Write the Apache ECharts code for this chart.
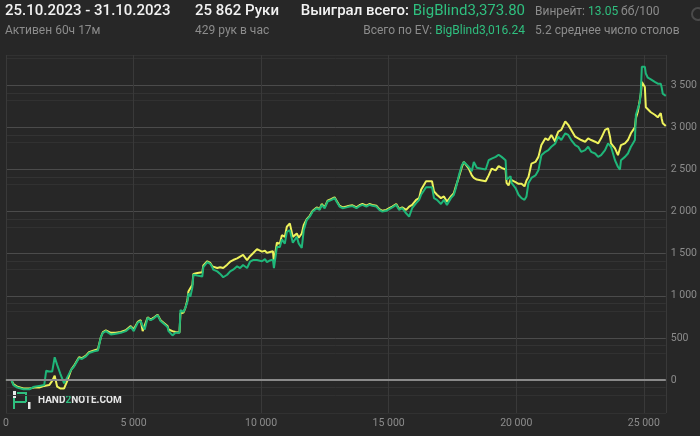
<!DOCTYPE html>
<html><head><meta charset="utf-8">
<script src="https://cdn.jsdelivr.net/npm/echarts@6/dist/echarts.min.js"></script>
<style>html,body{margin:0;padding:0;background:#272727}#c{width:700px;height:436px}</style>
</head><body><div id="c"></div><script>
// hands played (x)
const hands = [0,214,292,448,682,916,1111,1305,1500,1578,1695,1812,1910,2007,2124,2280,2416,2553,2669,2747,2864,2981,3137,3254,3332,3449,3605,3722,3800,3917,4112,4306,4501,4696,4774,4891,5008,5164,5281,5359,5437,5554,5670,5787,5943,6060,6177,6333,6372,6528,6645,6801,6840,6957,7035,7112,7151,7229,7307,7346,7502,7697,7736,7892,8008,8086,8125,8281,8398,8515,8671,8788,8905,9061,9177,9294,9450,9567,9684,9840,10035,10152,10230,10347,10425,10464,10503,10581,10620,10737,10815,10931,11009,11126,11243,11399,11477,11594,11672,11789,11906,12023,12179,12296,12374,12491,12607,12763,12880,12958,13075,13192,13348,13465,13582,13738,13854,13971,14127,14244,14361,14517,14634,14751,14907,15024,15141,15296,15413,15530,15686,15803,15920,16076,16193,16271,16466,16699,16777,16894,17050,17167,17284,17440,17557,17635,17752,17869,17947,18025,18142,18259,18337,18454,18530,18647,18803,18920,19037,19193,19310,19427,19583,19622,19700,19778,19817,19973,20090,20207,20324,20402,20480,20597,20753,20870,20986,21142,21259,21376,21532,21571,21649,21766,21922,22039,22156,22312,22429,22546,22702,22819,22936,23092,23209,23326,23481,23598,23676,23715,23871,23988,24066,24105,24261,24378,24495,24573,24651,24690,24768,24846,24885,24924,25041,25080,25158,25275,25431,25548,25665,25704,25743,25821,25862];
// actual winnings (green)
const won = [0,0,-60,-90,-110,-110,-80,-70,-60,110,100,100,270,180,80,-40,40,120,160,170,260,250,280,320,300,340,350,510,560,580,540,550,560,580,600,630,580,680,700,640,600,740,710,730,770,700,670,630,580,530,560,560,830,810,860,930,1030,990,1100,1250,1240,1230,1340,1400,1380,1340,1310,1290,1260,1220,1250,1290,1310,1350,1330,1365,1330,1405,1425,1425,1410,1435,1400,1420,1420,1430,1330,1330,1580,1580,1670,1620,1760,1780,1630,1700,1620,1570,1780,1900,1940,2000,2040,2020,2080,2040,2120,2140,2160,2120,2060,2040,2050,2060,2065,2040,2065,2080,2060,2080,2070,2060,2020,2000,2010,2030,2050,2080,2020,2040,1980,1940,2040,2100,2140,2200,2290,2290,2160,2140,2090,2140,2080,2160,2200,2280,2430,2550,2590,2570,2530,2480,2590,2520,2510,2510,2500,2610,2630,2650,2675,2650,2610,2380,2370,2420,2340,2280,2200,2160,2140,2180,2340,2400,2430,2490,2670,2710,2730,2770,2810,2830,2890,2850,2930,2910,2850,2790,2770,2710,2730,2770,2710,2690,2650,2670,2730,2810,2790,2770,2610,2530,2500,2610,2650,2690,2770,2810,2850,3150,3170,3300,3440,3720,3720,3640,3590,3570,3540,3520,3520,3470,3400,3400,3374];
// all-in EV winnings (yellow)
const ev = [0,0,-50,-80,-100,-100,-90,-90,-70,-60,-60,-10,50,-80,-100,-100,0,120,170,180,270,260,290,330,310,350,365,510,570,590,560,560,570,590,610,640,600,690,710,580,560,745,715,740,775,710,680,640,600,580,570,565,790,800,860,950,1050,1040,1130,1260,1270,1280,1360,1410,1390,1350,1340,1330,1340,1330,1370,1405,1425,1445,1465,1485,1425,1470,1505,1555,1525,1535,1510,1520,1525,1530,1400,1390,1630,1620,1720,1700,1820,1860,1700,1740,1690,1740,1840,1910,1950,2010,2050,2030,2090,2050,2130,2150,2170,2130,2070,2050,2060,2070,2075,2050,2075,2090,2070,2090,2080,2070,2030,2010,2020,2040,2060,2090,2030,2050,2020,2060,2080,2140,2160,2260,2360,2360,2240,2200,2160,2180,2120,2180,2220,2300,2410,2530,2590,2570,2510,2430,2400,2380,2360,2370,2360,2430,2510,2490,2540,2520,2500,2340,2310,2380,2400,2350,2330,2330,2300,2370,2410,2570,2590,2650,2790,2870,2850,2910,2830,2890,2950,2970,3070,3030,2970,2890,2870,2850,2830,2870,2850,2830,2810,2870,2970,2990,2890,2810,2750,2670,2650,2790,2810,2850,2930,2950,3000,3110,3190,3210,3400,3540,3480,3240,3220,3180,3150,3120,3170,3100,3050,3050,3016];
const xMax = 25862;
const yMin = -392, yMax = 3860;
const xStep = 5000;

const fmt = v => String(v).replace(/\B(?=(\d{3})+(?!\d))/g, ' ');
const chart = echarts.init(document.getElementById('c'), null, {renderer: 'canvas'});
const F = 'Roboto, "Noto Sans", sans-serif';
const gray = '#8c8c8c', green = '#2fbf7f', white = '#f2f2f2';

chart.setOption({
  backgroundColor: '#272727',
  animation: false,
  grid: {left: 4.5, right: 32, top: 55, bottom: 23},
  xAxis: {
    type: 'value', min: 0, max: xMax, interval: xStep,
    axisLine: {show: false}, axisTick: {show: false},
    axisLabel: {color: gray, fontSize: 10.5, fontFamily: F, margin: 5, formatter: fmt, showMaxLabel: false},
    splitLine: {show: true, lineStyle: {color: '#393939', width: 1}}
  },
  yAxis: [
    {
      type: 'value', position: 'right', min: yMin, max: yMax, splitNumber: 8,
      axisLine: {show: false}, axisTick: {show: false},
      axisLabel: {color: gray, fontSize: 10.5, fontFamily: F, margin: 5, formatter: fmt, showMinLabel: false, showMaxLabel: false},
      splitLine: {show: true, lineStyle: {color: '#4b4b4b', width: 1}}
    },
    {
      type: 'value', position: 'right', min: yMin + 90, max: yMax + 90, splitNumber: 8,
      axisLine: {show: false}, axisTick: {show: false}, axisLabel: {show: false},
      splitLine: {show: true, lineStyle: {color: '#333333', width: 1}}
    },
    {
      type: 'value', position: 'right', min: yMin + 180, max: yMax + 180, splitNumber: 8,
      axisLine: {show: false}, axisTick: {show: false}, axisLabel: {show: false},
      splitLine: {show: true, lineStyle: {color: '#313131', width: 1}}
    }
  ],
  series: [
    {
      type: 'line', name: 'EV', data: hands.map((h, i) => [h, ev[i]]),
      showSymbol: false, lineStyle: {color: '#eef25c', width: 2}, itemStyle: {color: '#eef25c'},
      z: 3,
      markLine: {silent: true, symbol: 'none', label: {show: false},
        lineStyle: {color: '#8a8a8a', width: 2, type: 'solid'}, data: [{yAxis: 0}]}
    },
    {
      type: 'line', name: 'Won', data: hands.map((h, i) => [h, won[i]]),
      showSymbol: false, lineStyle: {color: '#1fb679', width: 2}, itemStyle: {color: '#1fb679'},
      z: 4
    }
  ],
  graphic: [
    {type: 'text', left: 5, top: 4, style: {text: '25.10.2023 - 31.10.2023', fill: white, font: '500 15px ' + F}},
    {type: 'text', left: 5, top: 25, style: {text: 'Активен 60ч 17м', fill: gray, font: '12px ' + F}},
    {type: 'text', left: 195, top: 4, style: {text: '25 862 Руки', fill: white, font: '500 15px ' + F}},
    {type: 'text', left: 195, top: 25, style: {text: '429 рук в час', fill: gray, font: '12px ' + F}},
    {type: 'text', right: 175, top: 4, style: {text: '{w|Выиграл всего: }{g|BigBlind3,373.80}',
      rich: {w: {fill: white, font: '500 15px ' + F}, g: {fill: green, font: '15px ' + F}}}},
    {type: 'text', right: 175, top: 25, style: {text: '{w|Всего по EV: }{g|BigBlind3,016.24}',
      rich: {w: {fill: gray, font: '12px ' + F}, g: {fill: green, font: '12px ' + F}}}},
    {type: 'text', left: 535, top: 6, style: {text: '{w|Винрейт: }{g|13.05}{w| бб/100}',
      rich: {w: {fill: gray, font: '12px ' + F}, g: {fill: green, font: '12px ' + F}}}},
    {type: 'text', left: 535, top: 25, style: {text: '5.2 среднее число столов', fill: gray, font: '12px ' + F}},
    {type: 'circle', shape: {cx: 698, cy: 14, r: 6}, style: {fill: 'none', stroke: '#4a4a4a', lineWidth: 2}},
    // logo
    {type: 'rect', shape: {x: 13, y: 391, width: 3, height: 7}, style: {fill: '#e8e8e8'}},
    {type: 'rect', shape: {x: 13, y: 398, width: 2, height: 11}, style: {fill: '#2fbf7f'}},
    {type: 'rect', shape: {x: 13, y: 401, width: 13, height: 2}, style: {fill: '#2fbf7f'}},
    {type: 'rect', shape: {x: 17, y: 392, width: 10, height: 2}, style: {fill: '#2fbf7f'}},
    {type: 'rect', shape: {x: 25, y: 392, width: 2, height: 10}, style: {fill: '#2fbf7f'}},
    {type: 'rect', shape: {x: 28, y: 402, width: 2.5, height: 7}, style: {fill: '#e8e8e8'}},
    {type: 'text', left: 38, top: 395, style: {text: '{w|HAND}{g|2}{w|NOTE.COM}',
      rich: {w: {fill: '#e6e6e6', font: 'bold 10px ' + F}, g: {fill: '#2fbf7f', font: 'bold 10px ' + F}}}}
  ]
});
</script></body></html>
